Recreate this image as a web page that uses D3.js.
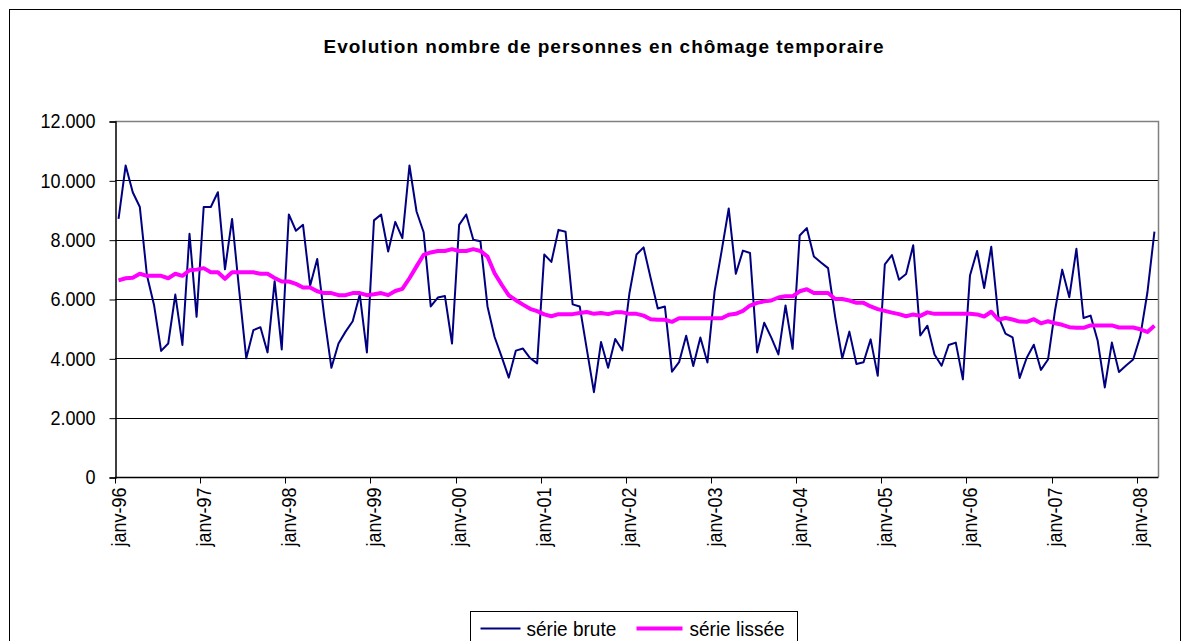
<!DOCTYPE html>
<html lang="fr">
<head>
<meta charset="utf-8">
<script src="https://cdn.jsdelivr.net/npm/d3@7"></script>
<style>
  html, body { margin: 0; padding: 0; background: #fff; }
  svg { display: block; font-family: "Liberation Sans", Arial, sans-serif; }
</style>
</head>
<body>
<svg id="chart" width="1189" height="641"></svg>
<script>
// Chômage temporaire : nombre mensuel de personnes, janvier 1996 – mars 2008
const startYear = 1996;
const monthCount = 147;

const serieBrute = [
  8700, 10500, 9600, 9100, 6800, 5800, 4250, 4500, 6150, 4450, 8200, 5400,
  9100, 9100, 9600, 7000, 8700, 6300, 4000, 4950, 5050, 4200, 6600, 4300,
  8850, 8300, 8500, 6450, 7350, 5400, 3680, 4500, 4900, 5250, 6150, 4200,
  8650, 8850, 7600, 8600, 8050, 10500, 8950, 8250, 5750, 6050, 6100, 4500,
  8500, 8850, 8000, 7950, 5750, 4720, 4050, 3350, 4260, 4330, 4010, 3830,
  7500, 7250, 8330, 8270, 5820, 5750, 4300, 2860, 4550, 3680, 4650, 4270,
  6190, 7500, 7740, 6700, 5680, 5750, 3550, 3870, 4760, 3740, 4700, 3860,
  6250, 7620, 9050, 6850, 7630, 7550, 4200, 5200, 4700, 4130, 5780, 4320,
  8140, 8390, 7430, 7230, 7040, 5400, 4000, 4900, 3810, 3870, 4640, 3410,
  7170, 7480, 6650, 6840, 7810, 4770, 5100, 4130, 3750, 4450, 4530, 3290,
  6790, 7620, 6370, 7760, 5410, 4830, 4710, 3340, 4020, 4460, 3610, 3960,
  5630, 6990, 6060, 7690, 5360, 5440, 4590, 3020, 4530, 3540, 3760, 3960,
  4740, 6210, 8270
];

const serieLissee = [
  6630, 6700, 6720, 6850, 6780, 6780, 6780, 6700, 6850, 6780, 6970, 6990,
  7040, 6900, 6900, 6680, 6900, 6900, 6900, 6900, 6850, 6850, 6710, 6590,
  6590, 6510, 6390, 6390, 6260, 6200, 6200, 6130, 6130, 6200, 6200, 6130,
  6160, 6200, 6130, 6270, 6340, 6700, 7100, 7490, 7570, 7620, 7620, 7680,
  7620, 7620, 7680, 7620, 7430, 6870, 6480, 6120, 5960, 5810, 5670, 5590,
  5480, 5420, 5490, 5490, 5490, 5530, 5560, 5500, 5530, 5490, 5550, 5550,
  5500, 5500, 5440, 5320, 5300, 5300, 5230, 5350, 5350, 5350, 5350, 5350,
  5350, 5350, 5470, 5500, 5600, 5780, 5870, 5920, 5950, 6050, 6090, 6090,
  6260, 6330, 6200, 6200, 6200, 6000, 6000, 5950, 5870, 5870, 5750, 5660,
  5600, 5540, 5490, 5420, 5480, 5430, 5550, 5500, 5500, 5500, 5500, 5500,
  5500, 5480, 5410, 5570, 5300, 5360, 5310, 5240, 5230, 5320, 5180, 5250,
  5180, 5130, 5050, 5030, 5030, 5110, 5110, 5110, 5110, 5040, 5040, 5040,
  4980, 4890, 5100
];

const yTicks = [0, 2000, 4000, 6000, 8000, 10000, 12000];
const titre = "Evolution nombre de personnes en chômage temporaire";
const legendeNoms = ["série brute", "série lissée"];
const couleurs = ["#000080", "#ff00ff"];
const epaisseurs = [2, 4];

// Libellés "janv-96" … "janv-08" sur chaque mois de janvier
const moisIndex = d3.range(monthCount);
const janvIndex = moisIndex.filter(i => i % 12 === 0);
const labelJanv = i => "janv-" + String((startYear + i / 12) % 100).padStart(2, "0");

const svg = d3.select("#chart");
const plot = { left: 115, right: 1158, top: 121, bottom: 477 };

const x = d3.scaleBand().domain(moisIndex).range([plot.left, plot.right]).padding(0);
const y = d3.scaleLinear().domain([0, 12000]).range([plot.bottom, plot.top]);
const cx = i => x(i) + x.bandwidth() / 2;

const fr = d3.formatLocale({ decimal: ",", thousands: ".", grouping: [3], currency: ["", " €"] });
const fmt = fr.format(",");

// Texte des axes : police un peu resserrée dans le sens de lecture
function resserre(sel, ratio) {
  sel.each(function () {
    const w = this.getComputedTextLength();
    d3.select(this)
      .attr("textLength", w * ratio)
      .attr("lengthAdjust", "spacingAndGlyphs");
  });
}

// Cadre extérieur du graphique
svg.append("rect")
  .attr("x", 9.5).attr("y", 9.5)
  .attr("width", 1171).attr("height", 700)
  .attr("fill", "none").attr("stroke", "#000").attr("stroke-width", 1);

// Titre
svg.append("text")
  .attr("x", 604).attr("y", 53)
  .attr("text-anchor", "middle")
  .attr("font-weight", "bold")
  .attr("font-size", 19)
  .attr("letter-spacing", 1)
  .attr("fill", "#000")
  .text(titre);

// Quadrillage horizontal
svg.append("g")
  .selectAll("line")
  .data(yTicks.filter(v => v > 0 && v < 12000))
  .join("line")
  .attr("x1", plot.left).attr("x2", plot.right)
  .attr("y1", d => Math.round(y(d)) + 0.5).attr("y2", d => Math.round(y(d)) + 0.5)
  .attr("stroke", "#000").attr("stroke-width", 1);

// Bordure de la zone de tracé (haut et droite)
svg.append("path")
  .attr("d", `M${plot.left},${Math.round(plot.top) + 0.5}H${plot.right + 0.5}V${plot.bottom}`)
  .attr("fill", "none").attr("stroke", "#808080").attr("stroke-width", 1.5);

// Axe vertical
const yAxis = d3.axisLeft(y).tickValues(yTicks).tickFormat(fmt).tickSize(6).tickPadding(14);
const gy = svg.append("g")
  .attr("transform", `translate(${plot.left + 0.5},0.5)`)
  .call(yAxis);
gy.select(".domain").attr("stroke", "#000").attr("stroke-width", 1.5);
gy.selectAll(".tick line").attr("stroke", "#000");
gy.selectAll(".tick text")
  .attr("font-size", 20)
  .attr("font-family", "Liberation Sans, Arial, sans-serif")
  .attr("fill", "#000")
  .call(resserre, 0.9);

// Axe horizontal : graduations entre les catégories, une par an
const gx = svg.append("g")
  .attr("transform", `translate(0,${plot.bottom + 0.5})`);
gx.append("line")
  .attr("x1", plot.left).attr("x2", plot.right + 0.5)
  .attr("stroke", "#000").attr("stroke-width", 1.5);
gx.selectAll("line.tick")
  .data(janvIndex)
  .join("line")
  .attr("class", "tick")
  .attr("x1", d => Math.round(x(d)) + 0.5).attr("x2", d => Math.round(x(d)) + 0.5)
  .attr("y1", 0).attr("y2", 6)
  .attr("stroke", "#000");
gx.selectAll("text")
  .data(janvIndex)
  .join("text")
  .attr("transform", d => `translate(${cx(d)},10) rotate(-90)`)
  .attr("text-anchor", "end")
  .attr("dy", "0.35em")
  .attr("font-size", 20)
  .attr("fill", "#000")
  .text(labelJanv)
  .call(resserre, 0.9);

// Courbes : la série lissée est tracée par-dessus la série brute
const line = d3.line().x((d, i) => cx(i)).y(d => y(d));
[serieBrute, serieLissee].forEach((serie, k) => {
  svg.append("path")
    .datum(serie)
    .attr("d", line)
    .attr("fill", "none")
    .attr("stroke", couleurs[k])
    .attr("stroke-width", epaisseurs[k])
    .attr("stroke-linejoin", "round");
});

// Légende
const leg = svg.append("g").attr("transform", "translate(470.5,611.5)");
leg.append("rect")
  .attr("width", 327).attr("height", 45)
  .attr("fill", "#fff").attr("stroke", "#000").attr("stroke-width", 1);
const items = [
  { x0: 10, x1: 50, tx: 56 },
  { x0: 166, x1: 212, tx: 219 }
];
items.forEach((it, k) => {
  leg.append("line")
    .attr("x1", it.x0).attr("x2", it.x1)
    .attr("y1", 17).attr("y2", 17)
    .attr("stroke", couleurs[k]).attr("stroke-width", epaisseurs[k]);
  leg.append("text")
    .attr("x", it.tx).attr("y", 17)
    .attr("dy", "0.35em")
    .attr("font-size", 20)
    .attr("fill", "#000")
    .text(legendeNoms[k])
    .call(resserre, 0.95);
});
</script>
</body>
</html>
